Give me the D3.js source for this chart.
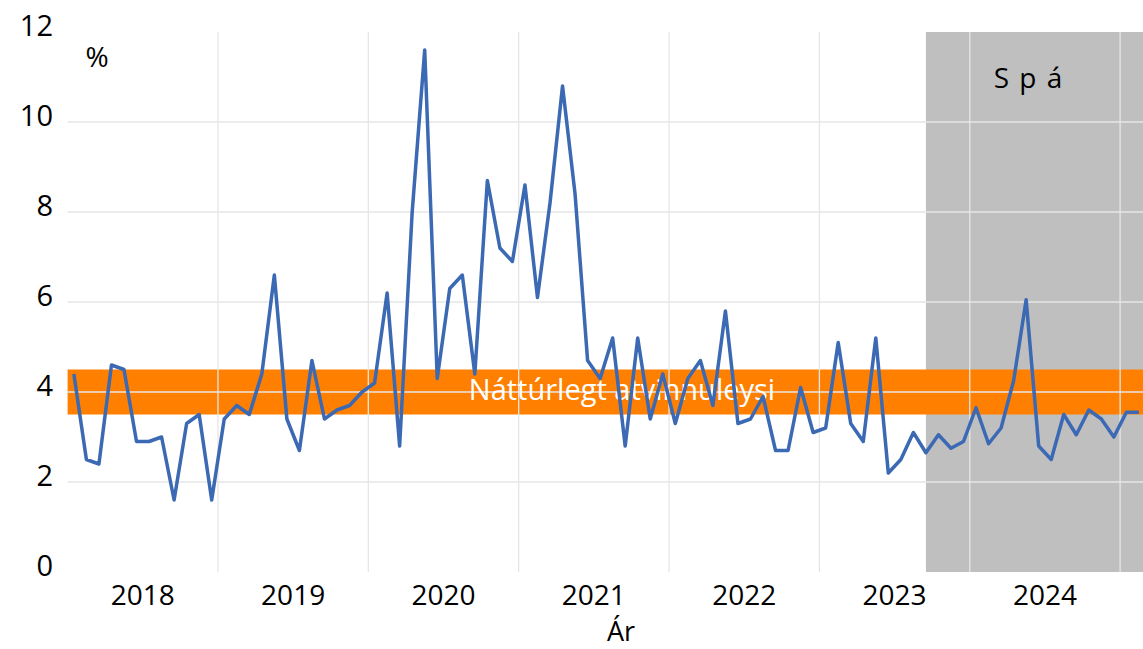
<!DOCTYPE html>
<meta charset="utf-8">
<style>
body { margin: 0; background: #fff; }
text { font-family: "Open Sans", sans-serif; fill: #000; }
.grid line { stroke: #e6e6e6; stroke-width: 1.3px; }
.line { fill: none; stroke: #3b69b3; stroke-width: 3.5px; stroke-linejoin: round; }
</style>
<body>
<script src="https://d3js.org/d3.v7.min.js"></script>
<script>

// years on the x axis, monthly data from Jan 2018 to Feb 2025
var years = [2018, 2019, 2020, 2021, 2022, 2023, 2024];
var yTicks = [0, 2, 4, 6, 8, 10, 12];

// unemployment rate, %, one value per month
var rate = [
  4.4, 2.5, 2.4, 4.6, 4.5, 2.9, 2.9, 3.0, 1.6, 3.3, 3.5, 1.6,   // 2018
  3.4, 3.7, 3.5, 4.4, 6.6, 3.4, 2.7, 4.7, 3.4, 3.6, 3.7, 4.0,   // 2019
  4.2, 6.2, 2.8, 8.0, 11.6, 4.3, 6.3, 6.6, 4.4, 8.7, 7.2, 6.9,  // 2020
  8.6, 6.1, 8.2, 10.8, 8.4, 4.7, 4.3, 5.2, 2.8, 5.2, 3.4, 4.4,  // 2021
  3.3, 4.3, 4.7, 3.7, 5.8, 3.3, 3.4, 3.9, 2.7, 2.7, 4.1, 3.1,   // 2022
  3.2, 5.1, 3.3, 2.9, 5.2, 2.2, 2.5, 3.1, 2.65, 3.05, 2.75, 2.9, // 2023
  3.65, 2.85, 3.2, 4.25, 6.05, 2.8, 2.5, 3.5, 3.05, 3.6, 3.4, 3.0, // 2024
  3.55, 3.55                                                     // 2025
];

// natural rate band and forecast start (month index, Sep 2023)
var naturalBand = [3.5, 4.5];
var forecastStart = 68;

var width = 1143, height = 649;
var margin = {top: 32, left: 67.6, bottom: 77};
var monthW = 12.53;

var x = d3.scaleLinear()
    .domain([0, rate.length])
    .range([margin.left, margin.left + rate.length * monthW]);
var y = d3.scaleLinear()
    .domain([0, 12])
    .range([height - margin.bottom, margin.top]);

var svg = d3.select("body").append("svg")
    .attr("width", width)
    .attr("height", height);

// forecast area
svg.append("rect")
    .attr("x", x(forecastStart + 0.5))
    .attr("y", y(12))
    .attr("width", width - x(forecastStart + 0.5))
    .attr("height", y(0) - y(12))
    .style("fill", "#bfbfbf");

// natural unemployment band
svg.append("rect")
    .attr("x", x(0))
    .attr("y", y(naturalBand[1]))
    .attr("width", width - x(0))
    .attr("height", y(naturalBand[0]) - y(naturalBand[1]))
    .style("fill", "#ff8000");

// grid lines
var grid = svg.append("g").attr("class", "grid");
grid.selectAll(".h")
    .data([2, 4, 6, 8, 10])
  .enter().append("line")
    .attr("x1", x(0)).attr("x2", width)
    .attr("y1", d => y(d)).attr("y2", d => y(d));
grid.selectAll(".v")
    .data(years.slice(1).concat([2025]))
  .enter().append("line")
    .attr("x1", d => x((d - 2018) * 12)).attr("x2", d => x((d - 2018) * 12))
    .attr("y1", y(12)).attr("y2", y(0));

svg.append("text")
    .attr("x", 622)
    .attr("y", 400)
    .attr("text-anchor", "middle")
    .style("font-size", "29px")
    .style("fill", "#fff")
    .text("Náttúrlegt atvinnuleysi");

// the data line
var line = d3.line()
    .x((d, i) => x(i + 0.5))
    .y(d => y(d));

svg.append("path")
    .datum(rate)
    .attr("class", "line")
    .attr("d", line);

// y tick labels
svg.selectAll(".ylab")
    .data(yTicks)
  .enter().append("text")
    .attr("x", 53)
    .attr("y", d => y(d) + 4)
    .attr("text-anchor", "end")
    .style("font-size", "29px")
    .text(d => d);

// year labels
svg.selectAll(".xlab")
    .data(years)
  .enter().append("text")
    .attr("x", d => x((d - 2018) * 12 + 6))
    .attr("y", 605)
    .attr("text-anchor", "middle")
    .style("font-size", "28px")
    .text(d => d);

svg.append("text")
    .attr("x", 621)
    .attr("y", 641)
    .attr("text-anchor", "middle")
    .style("font-size", "27px")
    .text("Ár");

svg.append("text")
    .attr("x", 97)
    .attr("y", 67)
    .attr("text-anchor", "middle")
    .style("font-size", "28px")
    .text("%");

svg.append("text")
    .attr("x", 1028)
    .attr("y", 88)
    .attr("text-anchor", "middle")
    .style("font-size", "28px")
    .style("word-spacing", "3px")
    .text("S p á");

</script>
</body>
